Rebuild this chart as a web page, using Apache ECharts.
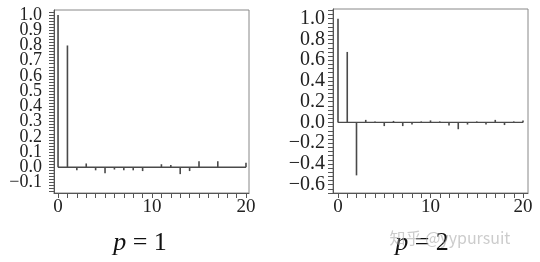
<!DOCTYPE html>
<html>
<head>
<meta charset="utf-8">
<script src="https://cdn.jsdelivr.net/npm/echarts@6/dist/echarts.min.js"></script>
<style>html,body{margin:0;padding:0;background:#fff}#c{width:540px;height:262px}</style>
</head>
<body>
<div id="c"></div>
<script>
// Lags
const lags = [0,1,2,3,4,5,6,7,8,9,10,11,12,13,14,15,16,17,18,19,20];
// ACF values, p = 1
const acfP1 = [1.0, 0.80, -0.02, 0.025, -0.02, -0.04, -0.015, -0.02, -0.02, -0.025, 0.0, 0.02, 0.015, -0.045, -0.025, 0.04, 0.0, 0.04, 0.0, 0.0, 0.03];
// ACF values, p = 2
const acfP2 = [1.0, 0.68, -0.51, 0.025, 0.01, -0.035, 0.015, -0.035, -0.02, 0.01, 0.02, 0.01, -0.03, -0.065, -0.02, 0.01, -0.02, 0.025, -0.025, 0.01, 0.02];
// Tick labels
const xLabels = [0, 10, 20];
const yLabelsP1 = [-0.1, 0, 0.1, 0.2, 0.3, 0.4, 0.5, 0.6, 0.7, 0.8, 0.9, 1.0];
const yLabelsP2 = [-0.6, -0.4, -0.2, 0, 0.2, 0.4, 0.6, 0.8, 1.0];
const titles = ['p = 1', 'p = 2'];
const watermark = '知乎 @yypursuit';

function range(a, b, step) {
  const out = [];
  const n = Math.round((b - a) / step);
  for (let i = 0; i <= n; i++) out.push(Math.round((a + i * step) * 1000) / 1000);
  return out;
}
const xTicks = lags.slice();
const yTicksP1 = range(-0.16, 1.02, 0.02);
const yTicksP2 = range(-0.68, 1.08, 0.04);
// split the dense left labels over two co-located axes so none get hidden
const yLabelsP1a = yLabelsP1.filter((v, i) => i % 2 === 0);
const yLabelsP1b = yLabelsP1.filter((v, i) => i % 2 === 1);

const axisColor = '#555';
const serif = '"Liberation Serif", "DejaVu Serif", serif';
const fmt = v => (v < 0 ? '\u2212' : '') + Math.abs(v).toFixed(1);

function xAxis(gi, min, max) {
  return {
    gridIndex: gi, type: 'value', min: min, max: max,
    axisLine: { show: true, onZero: false, lineStyle: { color: axisColor, width: 1 } },
    axisTick: { show: true, customValues: xTicks, length: 5, lineStyle: { color: axisColor } },
    axisLabel: { customValues: xLabels, fontFamily: serif, fontSize: 19, color: '#222', margin: 5,
      showMinLabel: true, showMaxLabel: true, hideOverlap: false },
    splitLine: { show: false }
  };
}
function yAxis(gi, min, max, labels, ticks, fs, margin, showLine) {
  return {
    gridIndex: gi, type: 'value', min: min, max: max, position: 'left', offset: 0,
    axisLine: { show: showLine, onZero: false, lineStyle: { color: axisColor, width: 1 } },
    axisTick: { show: !!ticks, customValues: ticks || [], length: 5, lineStyle: { color: axisColor } },
    axisLabel: { customValues: labels, formatter: fmt, fontFamily: serif, fontSize: fs, color: '#222', margin: margin,
      showMinLabel: true, showMaxLabel: true, hideOverlap: false },
    splitLine: { show: false }
  };
}
function bars(i, vals) {
  return {
    type: 'bar', xAxisIndex: i, yAxisIndex: i, barWidth: 1.6, silent: true,
    itemStyle: { color: '#4a4a4a' },
    data: lags.map((l, k) => [l, vals[k]])
  };
}
function baseline(i) {
  return {
    type: 'line', xAxisIndex: i, yAxisIndex: i, symbol: 'none', silent: true,
    lineStyle: { color: '#4a4a4a', width: 1.3 },
    data: [[lags[0], 0], [lags[lags.length - 1], 0]]
  };
}
function title(x, txt) {
  const parts = txt.split(' ');
  return { type: 'text', x: x, y: 243, style: { text: '{i|' + parts[0] + '} ' + parts.slice(1).join(' '),
    font: '26px ' + serif, fill: '#111', align: 'center', verticalAlign: 'middle',
    rich: { i: { fontStyle: 'italic', fontFamily: serif, fontSize: 26 } } } };
}

const chart = echarts.init(document.getElementById('c'), null, { renderer: 'canvas' });
chart.setOption({
  animation: false,
  backgroundColor: '#fff',
  grid: [
    { left: 54, top: 10, width: 195, height: 183, show: true, borderColor: '#888', borderWidth: 1, backgroundColor: 'transparent' },
    { left: 333, top: 9, width: 195, height: 184, show: true, borderColor: '#888', borderWidth: 1, backgroundColor: 'transparent' }
  ],
  xAxis: [xAxis(0, -0.43, 20.32), xAxis(1, -0.54, 20.54)],
  yAxis: [
    yAxis(0, -0.169, 1.033, yLabelsP1a, yTicksP1, 18, 12, true),
    yAxis(1, -0.68, 1.094, yLabelsP2, yTicksP2, 20, 8, true),
    yAxis(0, -0.169, 1.033, yLabelsP1b, null, 18, 12, false)
  ],
  series: [baseline(0), bars(0, acfP1), baseline(1), bars(1, acfP2)],
  graphic: [
    title(140, titles[0]),
    title(422, titles[1]),
    { type: 'text', x: 450, y: 238, z: 100, style: { text: watermark, font: '16px "Noto Sans CJK SC", "Noto Sans", sans-serif', fill: 'rgba(170,170,170,0.6)', align: 'center', verticalAlign: 'middle' } }
  ]
});
</script>
</body>
</html>
